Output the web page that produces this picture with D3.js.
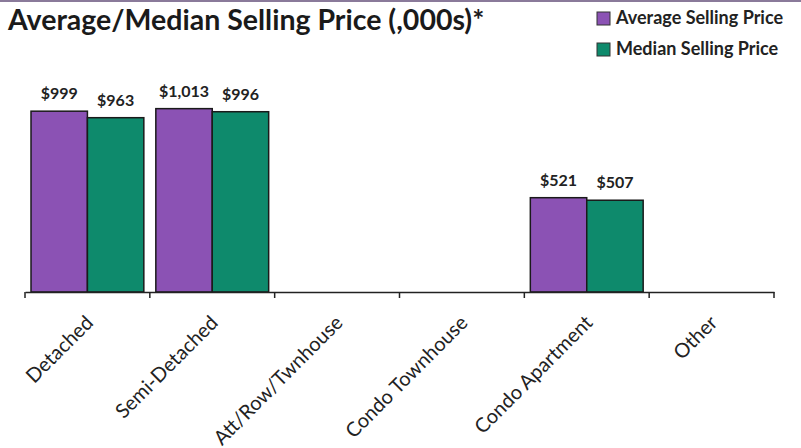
<!DOCTYPE html>
<html>
<head>
  <meta charset="utf-8">
  <style>
    body { margin: 0; background: #fff; }
    svg { display: block; font-family: Lato, "Open Sans", sans-serif; }
  </style>
</head>
<body>
  <div id="chart"></div>
  <script src="https://d3js.org/d3.v7.min.js"></script>
  <script>
    // data (thousands of dollars)
    const categories = ["Detached", "Semi-Detached", "Att/Row/Twnhouse", "Condo Townhouse", "Condo Apartment", "Other"];
    const seriesNames = ["Average Selling Price", "Median Selling Price"];
    const averagePrice = [999, 1013, null, null, 521, null];
    const medianPrice = [963, 996, null, null, 507, null];
    const valueLabels = [
      ["$999", "$1,013", "", "", "$521", ""],
      ["$963", "$996", "", "", "$507", ""]
    ];

    const W = 801, H = 448;
    const colors = ["#8b52b4", "#0e8a6c"];
    const base = 292;

    const svg = d3.select("#chart").append("svg")
        .attr("width", W)
        .attr("height", H);

    // faint frame line on top of the scan
    svg.append("line")
        .attr("x1", 0).attr("x2", W)
        .attr("y1", 1).attr("y2", 1)
        .attr("stroke", "#8a7a9a")
        .attr("stroke-width", 2);

    const x0 = d3.scaleBand()
        .domain(categories)
        .range([25, 774]);

    const x1 = d3.scaleBand()
        .domain(seriesNames)
        .range([6, x0.bandwidth() - 6]);

    const y = d3.scaleLinear()
        .domain([0, 1000])
        .range([base, 111]);

    const rows = categories.map((c, i) => ({
      cat: c,
      vals: [averagePrice[i], medianPrice[i]],
      labels: [valueLabels[0][i], valueLabels[1][i]]
    }));

    const groups = svg.selectAll("g.cat")
        .data(rows)
        .enter()
        .append("g")
        .attr("class", "cat")
        .attr("transform", d => "translate(" + x0(d.cat) + ",0)");

    groups.selectAll("rect")
        .data(d => d.vals.map((v, k) => ({ v: v, k: k })).filter(e => e.v != null))
        .enter()
        .append("rect")
        .attr("x", d => x1(seriesNames[d.k]))
        .attr("width", x1.bandwidth())
        .attr("y", d => y(d.v))
        .attr("height", d => y(0) - y(d.v))
        .attr("fill", d => colors[d.k])
        .attr("stroke", "#1a1a1a")
        .attr("stroke-width", 1.5);

    groups.selectAll("text.val")
        .data(d => d.vals.map((v, k) => ({ v: v, k: k, t: d.labels[k] })).filter(e => e.v != null))
        .enter()
        .append("text")
        .attr("class", "val")
        .attr("x", d => x1(seriesNames[d.k]) + x1.bandwidth() / 2)
        .attr("y", d => y(d.v) - 12)
        .attr("text-anchor", "middle")
        .attr("font-size", 16)
        .attr("font-weight", "bold")
        .attr("fill", "#222")
        .text(d => d.t);

    // x axis
    const xAxis = d3.axisBottom(x0).tickSize(0).tickFormat("");
    svg.append("g")
        .attr("transform", "translate(0," + base + ")")
        .call(xAxis)
        .call(g => g.select(".domain").attr("stroke", "#222").attr("stroke-width", 1.5));

    svg.append("g")
        .selectAll("line")
        .data(categories.concat(["end"]))
        .enter()
        .append("line")
        .attr("x1", (d, i) => i < categories.length ? x0(d) : x0.range()[1])
        .attr("x2", (d, i) => i < categories.length ? x0(d) : x0.range()[1])
        .attr("y1", base)
        .attr("y2", base + 6)
        .attr("stroke", "#222")
        .attr("stroke-width", 1.5);

    svg.append("g")
        .selectAll("text")
        .data(categories)
        .enter()
        .append("text")
        .attr("transform", d => "translate(" + (x0(d) + x0.bandwidth() / 2 + 7) + ",324) rotate(-45)")
        .attr("text-anchor", "end")
        .attr("font-size", 20)
        .attr("fill", "#222")
        .text(d => d);

    // title
    svg.append("text")
        .attr("x", 8)
        .attr("y", 30)
        .attr("font-size", 28.5)
        .attr("font-weight", "bold")
        .attr("fill", "#1a1a1a")
        .text("Average/Median Selling Price (,000s)*");

    // legend
    const legend = svg.append("g")
        .selectAll("g")
        .data(seriesNames)
        .enter()
        .append("g")
        .attr("transform", (d, i) => "translate(597," + (24 + i * 31) + ")");

    legend.append("rect")
        .attr("y", -12)
        .attr("width", 13)
        .attr("height", 13)
        .attr("fill", (d, i) => colors[i])
        .attr("stroke", "#333");

    legend.append("text")
        .attr("x", 19)
        .attr("font-size", 18)
        .attr("font-weight", "bold")
        .attr("fill", "#222")
        .text(d => d);
  </script>
</body>
</html>
